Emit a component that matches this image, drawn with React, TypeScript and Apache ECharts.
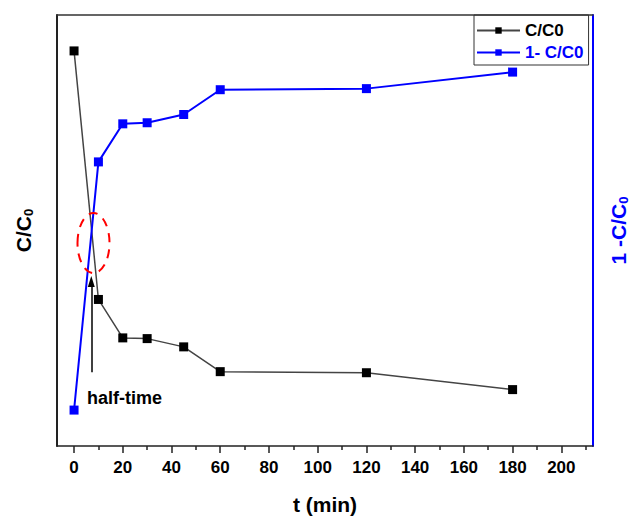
import React, { useEffect, useRef } from "react";
import * as echarts from "echarts";

const times = [0, 10, 20, 30, 45, 60, 120, 180];
const ratio = [1.0, 0.308, 0.201, 0.199, 0.176, 0.107, 0.104, 0.057];
const removed = [0.0, 0.691, 0.797, 0.8, 0.823, 0.892, 0.895, 0.941];
const majorTicks = [0, 20, 40, 60, 80, 100, 120, 140, 160, 180, 200];
const minorTicks = [10, 30, 50, 70, 90, 110, 130, 150, 170, 190, 210];
const arrowX = 7.07;
const arrowFrom = 0.105;
const arrowTo = 0.358;

const FONT = "'Liberation Sans', Arial, Helvetica, sans-serif";

export default function App() {
  const ref = useRef<HTMLDivElement>(null);
  useEffect(() => {
    if (!ref.current) return;
    const chart = echarts.init(ref.current, null, { renderer: "svg" });
    const xRange = { min: -7, max: 213 };
    const yRange = { min: -0.1, max: 1.1 };
    chart.setOption({
      animation: false,
      backgroundColor: "#ffffff",
      textStyle: { fontFamily: FONT },
      grid: { left: 57, right: 42, top: 15, bottom: 72 },
      legend: {
        orient: "vertical",
        left: 474,
        top: 15,
        padding: [7, 5, 4, 2],
        itemGap: 5,
        itemWidth: 43,
        itemHeight: 8,
        borderColor: "#333",
        borderWidth: 1,
        textStyle: { fontFamily: FONT, fontWeight: "bold", fontSize: 17 },
        data: [
          { name: "C/C0", textStyle: { color: "#000000" } },
          { name: "1- C/C0", textStyle: { color: "#0000ff" } },
        ],
      },
      xAxis: [
        {
          type: "value",
          position: "bottom",
          ...xRange,
          name: "t (min)",
          nameLocation: "middle",
          nameGap: 48,
          nameTextStyle: { fontFamily: FONT, fontWeight: "bold", fontSize: 21, color: "#000" },
          axisLine: { show: true, onZero: false, lineStyle: { color: "#222", width: 1.5 } },
          axisTick: { show: true, customValues: majorTicks, length: 7, lineStyle: { color: "#222", width: 1.5 } },
          axisLabel: { show: true, customValues: majorTicks, margin: 13, color: "#000", fontWeight: "bold", fontSize: 17, fontFamily: FONT },
          splitLine: { show: false },
        },
        {
          type: "value",
          position: "bottom",
          ...xRange,
          axisLine: { show: false, onZero: false },
          axisTick: { show: true, customValues: minorTicks, length: 4, lineStyle: { color: "#222", width: 1.5 } },
          axisLabel: { show: false },
          splitLine: { show: false },
        },
        {
          type: "value",
          position: "top",
          ...xRange,
          axisLine: { show: true, onZero: false, lineStyle: { color: "#333", width: 1.5 } },
          axisTick: { show: false },
          axisLabel: { show: false },
          splitLine: { show: false },
        },
      ],
      yAxis: [
        {
          type: "value",
          position: "left",
          ...yRange,
          name: "{a|C/C}{b|0}",
          nameLocation: "middle",
          nameRotate: 90,
          nameGap: 22,
          nameTextStyle: {
            rich: {
              a: { fontFamily: FONT, fontWeight: "bold", fontSize: 21, color: "#000" },
              b: { fontFamily: FONT, fontWeight: "bold", fontSize: 13, color: "#000", padding: [10, 0, 0, 0] },
            },
          },
          axisLine: { show: true, onZero: false, lineStyle: { color: "#222", width: 2 } },
          axisTick: { show: false },
          axisLabel: { show: false },
          splitLine: { show: false },
        },
        {
          type: "value",
          position: "right",
          ...yRange,
          name: "{a|1 -C/C}{b|0}",
          nameLocation: "middle",
          nameRotate: 90,
          nameGap: 14,
          nameTextStyle: {
            rich: {
              a: { fontFamily: FONT, fontWeight: "bold", fontSize: 21, color: "#0000ff" },
              b: { fontFamily: FONT, fontWeight: "bold", fontSize: 13, color: "#0000ff", padding: [10, 0, 0, 0] },
            },
          },
          axisLine: { show: true, onZero: false, lineStyle: { color: "#0000ff", width: 2 } },
          axisTick: { show: false },
          axisLabel: { show: false },
          splitLine: { show: false },
        },
      ],
      series: [
        {
          name: "C/C0",
          type: "line",
          xAxisIndex: 0,
          yAxisIndex: 0,
          data: times.map((t, i) => [t, ratio[i]]),
          symbol: "rect",
          symbolSize: 9,
          itemStyle: { color: "#000000" },
          lineStyle: { color: "#444444", width: 1.5 },
          markLine: {
            silent: true,
            symbol: ["none", "triangle"],
            symbolSize: [7, 11],
            label: { show: false },
            lineStyle: { color: "#000", width: 1.5, type: "solid" },
            data: [[{ coord: [arrowX, arrowFrom] }, { coord: [arrowX, arrowTo] }]],
          },
        },
        {
          name: "1- C/C0",
          type: "line",
          xAxisIndex: 0,
          yAxisIndex: 1,
          data: times.map((t, i) => [t, removed[i]]),
          symbol: "rect",
          symbolSize: 9,
          itemStyle: { color: "#0000ff" },
          lineStyle: { color: "#0000ff", width: 2 },
        },
      ],
      graphic: [
        {
          type: "ellipse",
          shape: { cx: 93.5, cy: 243, rx: 16, ry: 30 },
          style: { fill: "none", stroke: "#ff0000", lineWidth: 2, lineDash: [9, 7] },
          z: 100,
        },
        {
          type: "text",
          x: 87,
          y: 398,
          style: {
            text: "half-time",
            fontFamily: FONT,
            fontWeight: "bold",
            fontSize: 18,
            fill: "#000",
            verticalAlign: "middle",
          },
          z: 100,
        },
      ],
    });
    return () => chart.dispose();
  }, []);
  return (
    <div
      ref={ref}
      style={{ position: "fixed", left: 0, top: 0, width: 638, height: 520, background: "#fff" }}
    />
  );
}
